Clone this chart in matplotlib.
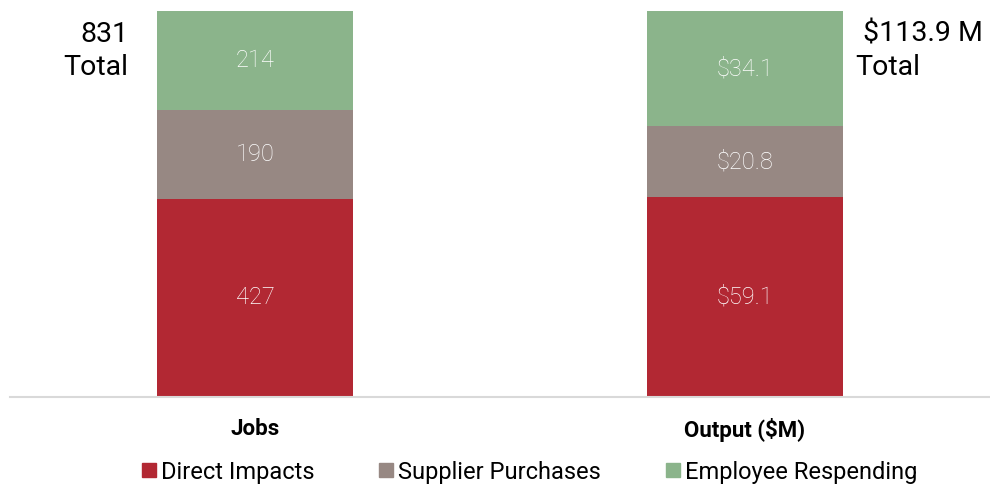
import matplotlib
matplotlib.use("Agg")
import matplotlib.pyplot as plt
from matplotlib.lines import Line2D

categories = ["Jobs", "Output ($M)"]
series = ["Direct Impacts", "Supplier Purchases", "Employee Respending"]
direct = [427, 59.1]
supplier = [190, 20.8]
respending = [214, 34.1]
labels_direct = ["427", "$59.1"]
labels_supplier = ["190", "$20.8"]
labels_respending = ["214", "$34.1"]
totals = ["831\nTotal", " $113.9 M\nTotal"]
colors = ["#B22833", "#978883", "#8BB48B"]

plt.rcParams['font.family'] = ['Roboto', 'DejaVu Sans']

fig = plt.figure(figsize=(9.9, 4.87), dpi=100)
ax = fig.add_axes([10/990, 1-397/487, 980/990, 386/487])

vals = [direct, supplier, respending]
labs = [labels_direct, labels_supplier, labels_respending]
tot = [sum(v[i] for v in vals) for i in range(len(categories))]
x = list(range(len(categories)))
bottom = [0.0]*len(categories)
for s, (v, lb, c) in enumerate(zip(vals, labs, colors)):
    h = [v[i]/tot[i] for i in x]
    ax.bar(x, h, bottom=bottom, width=0.4, color=c, label=series[s])
    for i in x:
        ax.text(i, bottom[i]+h[i]/2, lb[i], ha='center', va='center',
                color='white', fontsize=17, fontweight='light')
    bottom = [bottom[i]+h[i] for i in x]

ax.set_xlim(-0.5, 1.5)
ax.set_ylim(0, 1)
for sp in ['top', 'right', 'left']:
    ax.spines[sp].set_visible(False)
ax.spines['bottom'].set_color('#d9d9d9')
ax.spines['bottom'].set_linewidth(1.5)
ax.set_yticks([])
ax.set_xticks(x)
ax.set_xticklabels(categories, fontsize=16, fontweight='bold')
ax.tick_params(axis='x', length=0, pad=15)

ax.text(-0.258, 0.975, totals[0], ha='right', va='top', fontsize=20.5, linespacing=1.3)
ax.text(1.226, 0.975, totals[1], ha='left', va='top', fontsize=20.5, linespacing=1.3)

handles = [Line2D([], [], marker='s', linestyle='none', markersize=9.5,
                  markerfacecolor=c, markeredgecolor=c) for c in colors]
fig.legend(handles, series, loc='center', bbox_to_anchor=(527/990, 1-472/487),
           ncol=3, frameon=False, fontsize=17, handletextpad=0.0,
           columnspacing=2.55, handlelength=1.0)

fig.savefig("out.png", dpi=100)
